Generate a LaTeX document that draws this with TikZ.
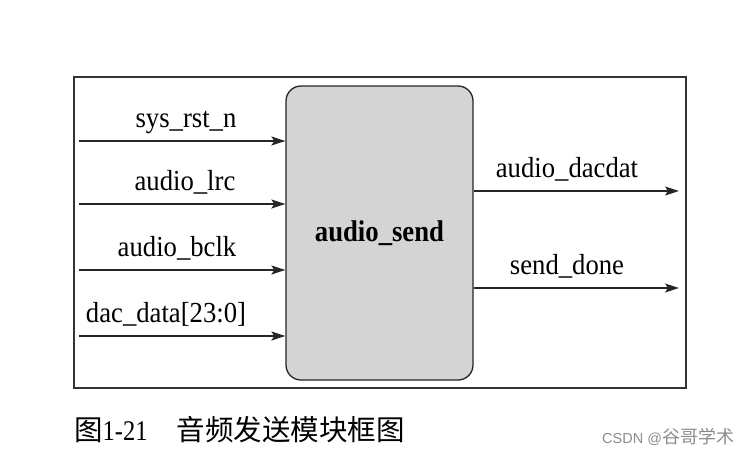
\documentclass[tikz,border=0pt]{standalone}
\usepackage{fontspec}
\setmainfont{Liberation Serif}
\newfontfamily\cjk{Noto Sans CJK SC}
\newfontfamily\wmfont{Liberation Sans}
\usetikzlibrary{arrows.meta,positioning,calc}
\definecolor{modgray}{RGB}{212,212,212}
\newcommand{\narrow}[2][0.92]{\scalebox{#1}[1]{#2}}
\tikzset{
  sig/.style={->,line width=1.4pt,black!85},
  siglabel/.style={anchor=base,inner sep=0pt,font=\fontsize{29}{32}\selectfont},
  module/.style={draw=black!85,fill=modgray,rounded corners=15pt,line width=1.3pt,
    minimum width=187pt,minimum height=294pt,inner sep=0pt,
    font=\fontsize{30}{34}\selectfont\bfseries}
}
\begin{document}
\begin{tikzpicture}[x=1pt,y=-1pt,>={Stealth[length=14pt,width=9pt,inset=3pt]}]
  \useasboundingbox (0,0) rectangle (753,456);
  % outer frame
  \draw[line width=1.5pt,black!80] (74,77) rectangle (686,388);
  % module
  \node[module] (send) at (379.5,233) {\narrow[0.89]{audio\_send}};
  % inputs
  \foreach \y/\lx/\name/\txt in {141/186/rst/sys\_rst\_n,204/185/lrc/audio\_lrc,
      270/177/bclk/audio\_bclk,336/166/dac/dac\_data[23:0]} {
    \coordinate (\name) at (79,\y);
    \draw[sig] (\name) -- (\name -| send.west);
    \node[siglabel] (\name-l) at (\lx,\y-14) {\narrow{\txt}};
  }
  % outputs
  \foreach \y/\name/\txt in {191/dacdat/audio\_dacdat,288/done/send\_done} {
    \coordinate (\name) at (679,\y);
    \draw[sig] (\name -| send.east) -- (\name);
    \node[siglabel] (\name-l) at (567,\y-14) {\narrow{\txt}};
  }
  % caption
  \node[anchor=base west,inner sep=0pt,font=\fontsize{28.5}{31}\selectfont] (cap) at (74,440)
    {{\cjk 图}\narrow[0.86]{1-21}\hspace{29pt}{\cjk 音频发送模块框图}};
  \node[anchor=base west,inner sep=0pt,text=black!45,font=\fontsize{14.5}{17}\selectfont] (wm) at (602,443)
    {\wmfont CSDN @{\cjk\fontsize{18}{20}\selectfont 谷哥学术}};
\end{tikzpicture}
\end{document}
